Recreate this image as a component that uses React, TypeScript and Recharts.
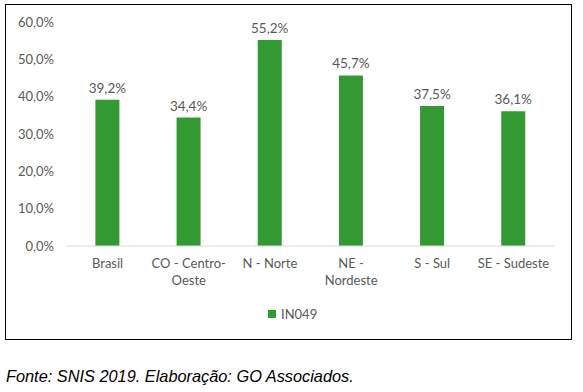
import React from "react";
import { BarChart, Bar, XAxis, YAxis, LabelList } from "recharts";

const categories = ["Brasil", "CO - Centro-Oeste", "N - Norte", "NE - Nordeste", "S - Sul", "SE - Sudeste"];
const categoryLines = [["Brasil"], ["CO - Centro-", "Oeste"], ["N - Norte"], ["NE -", "Nordeste"], ["S - Sul"], ["SE - Sudeste"]];
const in049 = [39.2, 34.4, 55.2, 45.7, 37.5, 36.1];
const yTicks = [0, 10, 20, 30, 40, 50, 60];

const GREEN = "#339933";
const TEXT = "#595959";
const FONT = "Lato, 'Open Sans', sans-serif";

const data = categories.map((c, i) => ({ name: c, lines: categoryLines[i], IN049: in049[i] }));

const fmt = (v: number) => v.toFixed(1).replace(".", ",") + "%";

const CategoryTick = (props: any) => {
  const { x, y, payload, index } = props;
  const lines = categoryLines[index] || [payload.value];
  return (
    <g transform={`translate(${x},${y})`}>
      {lines.map((l: string, i: number) => (
        <text key={i} x={0} y={i * 17} dy={14} textAnchor="middle" fill={TEXT} fontSize={13} fontFamily={FONT}>
          {l}
        </text>
      ))}
    </g>
  );
};

export default function App() {
  return (
    <div style={{ position: "absolute", left: 0, top: 0, width: 583, height: 392, background: "#fff" }}>
      <div
        style={{
          position: "absolute",
          left: 5,
          top: 4,
          width: 565,
          height: 334,
          border: "1.5px solid #000",
        }}
      />
      <div style={{ position: "absolute", left: 0, top: 0 }}>
        <BarChart
          width={583}
          height={340}
          data={data}
          margin={{ top: 22, right: 29, left: 0, bottom: 0 }}
          barCategoryGap="35%"
        >
          <YAxis
            width={67}
            domain={[0, 60]}
            ticks={yTicks}
            interval={0}
            axisLine={false}
            tickLine={false}
            tickMargin={7}
            tickFormatter={fmt}
            tick={{ fill: TEXT, fontSize: 13, fontFamily: FONT }}
          />
          <XAxis
            dataKey="name"
            height={94}
            interval={0}
            axisLine={{ stroke: "#d9d9d9", strokeWidth: 1 }}
            tickLine={false}
            tick={<CategoryTick />}
          />
          <Bar dataKey="IN049" fill={GREEN} isAnimationActive={false}>
            <LabelList
              dataKey="IN049"
              position="top"
              offset={7}
              formatter={(v: any) => fmt(Number(v))}
              style={{ fill: TEXT, fontSize: 13.5, fontFamily: FONT }}
            />
          </Bar>
        </BarChart>
      </div>
      <div
        style={{
          position: "absolute",
          left: 268,
          top: 306,
          display: "flex",
          alignItems: "center",
          gap: 5,
          fontFamily: FONT,
          fontSize: 13,
          color: TEXT,
        }}
      >
        <div style={{ width: 8, height: 8, background: GREEN }} />
        IN049
      </div>
      <div
        style={{
          position: "absolute",
          left: 6,
          top: 367,
          fontFamily: "'Liberation Sans', Arial, sans-serif",
          fontStyle: "italic",
          fontSize: 17,
          color: "#000",
          whiteSpace: "nowrap",
          transform: "scaleX(0.96)",
          transformOrigin: "left center",
        }}
      >
        Fonte: SNIS 2019. Elaboração: GO Associados.
      </div>
    </div>
  );
}
